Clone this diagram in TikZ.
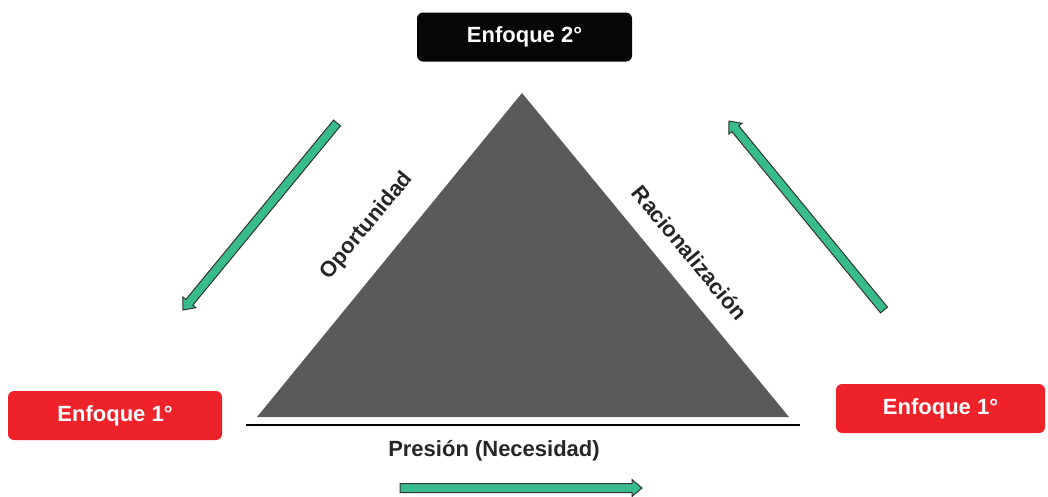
\documentclass[tikz,border=0pt]{standalone}
\usepackage{fontspec}
\setmainfont{Liberation Sans}
\usetikzlibrary{calc}
\definecolor{arrowgreen}{RGB}{56,188,140}
\definecolor{trigray}{RGB}{90,90,90}
\definecolor{boxred}{RGB}{238,34,41}
\definecolor{boxblack}{RGB}{6,6,6}
\tikzset{
  labelbox/.style={rounded corners=6pt, minimum height=49pt, text=white,
    font=\fontsize{22}{26}\selectfont\bfseries},
  redbox/.style={labelbox, fill=boxred},
  blackbox/.style={labelbox, fill=boxblack},
  sidelabel/.style={font=\fontsize{22}{26}\selectfont\bfseries, text=black!85},
  blockarrow/.style={fill=arrowgreen, draw=black!80, line width=1pt, line join=miter}
}
% block arrow from tail #1 to tip #2
\newcommand\greenblockarrow[2]{%
  \coordinate (#1-h) at ($(#2)!10pt!(#1)$);
  \path[blockarrow]
    ($(#1)!4.5pt!90:(#2)$) -- ($(#1-h)!4.5pt!90:(#2)$) -- ($(#1-h)!8.5pt!90:(#2)$)
    -- (#2) -- ($(#1-h)!8.5pt!-90:(#2)$) -- ($(#1-h)!4.5pt!-90:(#2)$)
    -- ($(#1)!4.5pt!-90:(#2)$) -- cycle;}
\begin{document}
\begin{tikzpicture}[x=1pt,y=-1pt]
\useasboundingbox (0,0) rectangle (1048,496);

% triangle and base line
\coordinate (apex) at (522,93);
\coordinate (bl) at (257,417);
\coordinate (br) at (789,417);
\fill[trigray] (apex) -- (br) -- (bl) -- cycle;
\coordinate (baseL) at (246,425);
\coordinate (baseR) at (800,425);
\draw[line width=2.5pt] (baseL) -- (baseR);

% side labels
\node[sidelabel, rotate=50.5] (oport) at (367,226) {Oportunidad};
\node[sidelabel, rotate=-50.5] (racio) at (690,253) {Racionalización};
\node[sidelabel] (presion) at (494,451) {Presión (Necesidad)};

% boxes
\node[blackbox, minimum width=215pt] (top) at (524.5,37) {Enfoque 2°};
\node[redbox, minimum width=214pt] (left) at (115,415.5) {Enfoque 1°};
\node[redbox, minimum width=209pt] (right) at (940.5,408.5) {Enfoque 1°};

% arrows
\coordinate (la) at (337,123); \coordinate (lb) at (183,310);
\coordinate (ra) at (884,310); \coordinate (rb) at (729,121);
\coordinate (ba) at (400,488); \coordinate (bb) at (642,488);
\greenblockarrow{la}{lb}
\greenblockarrow{ra}{rb}
\greenblockarrow{ba}{bb}
\end{tikzpicture}
\end{document}
